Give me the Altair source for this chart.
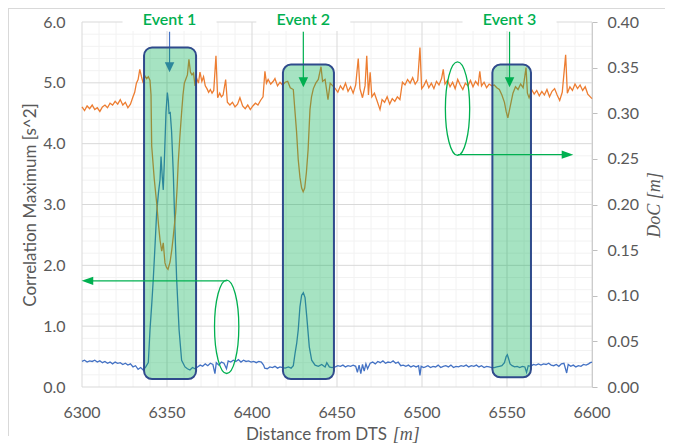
import altair as alt
import pandas as pd

# ---------------- data ----------------
# Depth of cover (right axis, metres)
doc_dist = [6300, 6301.5, 6303, 6304.5, 6306, 6307.5, 6309, 6310.5, 6312, 6313.5, 6315, 6316.5, 6318, 6319.5,
            6321, 6322.5, 6324, 6325.5, 6327, 6328.5, 6330, 6331, 6332, 6333, 6334, 6335, 6336, 6337, 6338,
            6339, 6340, 6340.6, 6341, 6342.5, 6343.9, 6345, 6345.9, 6346.9, 6347.8, 6348.8, 6349.7, 6350.6,
            6351.8, 6352.8, 6353.7, 6355.1, 6356, 6356.6, 6357.6, 6358.6, 6359.4, 6360.2, 6361, 6362, 6362.9,
            6363.8, 6364.7, 6365.6, 6366.5, 6367.5, 6368.5, 6369.4, 6370.5, 6371.5, 6372.5, 6373.5, 6374.5,
            6375.5, 6376.5, 6377.5, 6378.8, 6379.8, 6381, 6382, 6383, 6384.5, 6385.5, 6387, 6388.5, 6390,
            6391.5, 6392.9, 6394.5, 6396, 6397.5, 6399, 6400.5, 6402, 6403.5, 6405, 6406.5, 6407.6, 6408.5,
            6409.5, 6411, 6412.5, 6413.5, 6415, 6416.5, 6418, 6419.5, 6421, 6422.5, 6424.3, 6425.2, 6426.2,
            6427.2, 6428.2, 6429.2, 6430.1, 6431, 6432, 6433, 6434.1, 6435, 6436.1, 6437.5, 6439, 6440.6,
            6441.5, 6443, 6444.7, 6446, 6447.5, 6449, 6450.5, 6452, 6453.5, 6455, 6456.5, 6458, 6459.5, 6461,
            6462.5, 6463.5, 6465, 6466.5, 6467.5, 6468.5, 6469.5, 6470.5, 6472, 6473.5, 6475.3, 6476.5, 6478,
            6479.5, 6481, 6482.5, 6484, 6485.5, 6487, 6488.5, 6490, 6491.5, 6493, 6494.5, 6496, 6497.5,
            6498.8, 6499.8, 6501, 6502.5, 6504, 6505.5, 6507, 6508.5, 6510, 6511.5, 6512.5, 6513.5, 6515,
            6516.5, 6518, 6519.5, 6521, 6522.5, 6524, 6525.5, 6527, 6528.5, 6530, 6531.5, 6533, 6534, 6535,
            6536.5, 6538, 6539.5, 6541, 6542.5, 6544, 6545.5, 6547, 6548.5, 6549.5, 6550.5, 6551.5, 6552.5,
            6553.5, 6555, 6556.5, 6558, 6559.5, 6561.2, 6562, 6563, 6564.5, 6566, 6567.5, 6569, 6570.5, 6572,
            6573.5, 6575, 6576.5, 6578, 6579.5, 6581, 6582.5, 6584.5, 6585.5, 6587, 6588.5, 6590, 6591.5,
            6593, 6594.5, 6596, 6597.5, 6599, 6600]
doc_m = [0.307, 0.303, 0.308, 0.305, 0.309, 0.304, 0.306, 0.302, 0.307, 0.309, 0.306, 0.311, 0.309, 0.313,
         0.310, 0.315, 0.309, 0.312, 0.306, 0.310, 0.318, 0.323, 0.333, 0.337, 0.348, 0.340, 0.333, 0.341,
         0.338, 0.340, 0.336, 0.320, 0.264, 0.228, 0.202, 0.178, 0.161, 0.149, 0.158, 0.136, 0.131, 0.129,
         0.137, 0.150, 0.165, 0.191, 0.220, 0.246, 0.275, 0.301, 0.320, 0.333, 0.337, 0.342, 0.359, 0.345,
         0.342, 0.344, 0.330, 0.338, 0.333, 0.345, 0.335, 0.340, 0.330, 0.327, 0.323, 0.326, 0.322, 0.325,
         0.363, 0.317, 0.322, 0.318, 0.320, 0.337, 0.312, 0.309, 0.312, 0.307, 0.310, 0.317, 0.308, 0.305,
         0.309, 0.304, 0.308, 0.311, 0.309, 0.314, 0.318, 0.346, 0.333, 0.337, 0.332, 0.335, 0.338, 0.330,
         0.334, 0.331, 0.334, 0.335, 0.328, 0.326, 0.304, 0.280, 0.249, 0.230, 0.218, 0.214, 0.218, 0.235,
         0.260, 0.304, 0.318, 0.327, 0.333, 0.337, 0.351, 0.335, 0.337, 0.315, 0.333, 0.330, 0.327, 0.323,
         0.330, 0.326, 0.333, 0.324, 0.329, 0.322, 0.331, 0.360, 0.327, 0.317, 0.330, 0.363, 0.320, 0.345,
         0.318, 0.322, 0.314, 0.304, 0.315, 0.312, 0.318, 0.310, 0.316, 0.313, 0.318, 0.315, 0.334, 0.331,
         0.337, 0.333, 0.339, 0.332, 0.336, 0.372, 0.327, 0.330, 0.336, 0.328, 0.333, 0.327, 0.335, 0.331,
         0.338, 0.348, 0.332, 0.336, 0.329, 0.334, 0.327, 0.337, 0.331, 0.326, 0.333, 0.330, 0.336, 0.329,
         0.335, 0.331, 0.346, 0.330, 0.334, 0.328, 0.332, 0.330, 0.331, 0.328, 0.326, 0.320, 0.312, 0.302,
         0.295, 0.304, 0.313, 0.322, 0.329, 0.326, 0.332, 0.328, 0.350, 0.322, 0.317, 0.326, 0.321, 0.325,
         0.319, 0.324, 0.320, 0.326, 0.318, 0.324, 0.327, 0.320, 0.314, 0.323, 0.364, 0.322, 0.329, 0.325,
         0.332, 0.327, 0.331, 0.325, 0.329, 0.321, 0.318, 0.316]

# Correlation maximum (left axis, s^2)
corr_dist = [6300, 6301.5, 6303, 6304.5, 6306, 6307.5, 6309, 6310.5, 6312, 6313.5, 6315, 6316.5, 6318,
             6319.5, 6321, 6322.5, 6324, 6325.5, 6327, 6328.5, 6330, 6331.5, 6333, 6334.5, 6336, 6337.5,
             6339, 6340, 6341, 6341.9, 6343, 6343.9, 6345, 6345.9, 6346.5, 6347.2, 6347.8, 6348.4, 6349.4,
             6350.2, 6350.8, 6351.2, 6351.9, 6352.7, 6353.7, 6354.7, 6355.7, 6357.1, 6358.6, 6360.6, 6362,
             6363.5, 6365, 6366.5, 6368, 6369.5, 6371, 6372.5, 6374, 6375.5, 6377, 6378.2, 6379, 6380.5, 6382,
             6383.5, 6385, 6386, 6387.5, 6389, 6390.5, 6392, 6393.5, 6395, 6396.5, 6398, 6399.5, 6401, 6402.5,
             6404, 6405.5, 6406.8, 6407.5, 6409, 6410.5, 6412, 6413.5, 6415, 6416.5, 6418, 6419.5, 6421.4,
             6423, 6424.3, 6425.3, 6426.3, 6427.2, 6428.2, 6429.2, 6430.2, 6431.2, 6432.2, 6433.7, 6435.1,
             6437.1, 6439, 6441, 6443, 6444, 6445.5, 6447, 6449, 6450.5, 6452, 6453.5, 6455, 6456.5, 6458,
             6459.5, 6461, 6462, 6463, 6464, 6465, 6466, 6467, 6468, 6469.5, 6471, 6472.5, 6474, 6475.5, 6477,
             6478.5, 6480, 6481.5, 6483, 6484.5, 6486, 6487.5, 6489, 6490.5, 6492, 6493.5, 6495, 6496.5, 6498,
             6498.8, 6499.5, 6501, 6502, 6503.5, 6505, 6506.5, 6508, 6509.5, 6511, 6512.5, 6514, 6515.5, 6517,
             6518.5, 6520, 6521.5, 6523, 6524.5, 6526, 6527.5, 6529, 6530.5, 6532, 6533.5, 6535, 6536.5, 6538,
             6539.5, 6541, 6542.5, 6544, 6545.5, 6547, 6548.5, 6549.5, 6550.2, 6551, 6551.8, 6553, 6554.5,
             6556, 6557.5, 6559, 6560.5, 6561.5, 6562.5, 6564, 6565.5, 6567, 6568.5, 6570, 6571.5, 6573,
             6574.5, 6576, 6577.5, 6579, 6580.5, 6582, 6583.5, 6585.1, 6586, 6587.5, 6589, 6590.5, 6592,
             6593.5, 6595, 6596.5, 6598, 6599, 6600]
corr_val = [0.42, 0.44, 0.41, 0.43, 0.42, 0.44, 0.41, 0.43, 0.40, 0.42, 0.39, 0.41, 0.38, 0.41, 0.39, 0.40,
            0.37, 0.39, 0.36, 0.38, 0.33, 0.35, 0.29, 0.32, 0.28, 0.33, 0.40, 0.94, 1.35, 1.76, 2.35, 2.86,
            3.20, 3.41, 3.79, 3.46, 3.24, 3.68, 4.51, 4.84, 4.70, 4.50, 4.51, 4.20, 3.52, 2.58, 1.76, 0.94,
            0.44, 0.33, 0.30, 0.28, 0.32, 0.30, 0.33, 0.36, 0.34, 0.38, 0.35, 0.39, 0.37, 0.22, 0.40, 0.36,
            0.41, 0.39, 0.30, 0.43, 0.41, 0.44, 0.42, 0.45, 0.41, 0.44, 0.42, 0.43, 0.41, 0.42, 0.40, 0.42,
            0.41, 0.36, 0.31, 0.30, 0.33, 0.32, 0.34, 0.31, 0.33, 0.32, 0.31, 0.33, 0.31, 0.35, 0.55, 0.72,
            0.94, 1.32, 1.51, 1.55, 1.47, 1.16, 0.66, 0.44, 0.36, 0.34, 0.37, 0.33, 0.40, 0.33, 0.32, 0.33,
            0.35, 0.34, 0.36, 0.33, 0.35, 0.34, 0.36, 0.34, 0.24, 0.36, 0.22, 0.37, 0.26, 0.38, 0.30, 0.39,
            0.41, 0.38, 0.42, 0.40, 0.43, 0.39, 0.41, 0.40, 0.43, 0.39, 0.41, 0.35, 0.36, 0.34, 0.36, 0.33,
            0.35, 0.33, 0.35, 0.19, 0.34, 0.32, 0.33, 0.35, 0.32, 0.34, 0.33, 0.36, 0.32, 0.34, 0.35, 0.33,
            0.36, 0.32, 0.34, 0.33, 0.35, 0.34, 0.36, 0.33, 0.35, 0.34, 0.36, 0.33, 0.35, 0.32, 0.34, 0.33,
            0.32, 0.32, 0.33, 0.34, 0.35, 0.40, 0.50, 0.53, 0.46, 0.38, 0.35, 0.33, 0.34, 0.32, 0.34, 0.33,
            0.24, 0.35, 0.34, 0.37, 0.36, 0.38, 0.36, 0.38, 0.37, 0.39, 0.36, 0.35, 0.37, 0.34, 0.38, 0.39,
            0.23, 0.37, 0.34, 0.36, 0.33, 0.35, 0.34, 0.37, 0.36, 0.38, 0.40, 0.41]

# axes / grid
x_ticks = [6300, 6350, 6400, 6450, 6500, 6550, 6600]
x_tick_labels = ["6300", "6350", "6400", "6450", "6500", "6550", "6600"]
x_minor = [6310, 6320, 6330, 6340, 6360, 6370, 6380, 6390, 6410, 6420, 6430, 6440, 6460, 6470, 6480,
           6490, 6510, 6520, 6530, 6540, 6560, 6570, 6580, 6590]
y_left_ticks = [0, 1, 2, 3, 4, 5, 6]
y_minor = [0.2, 0.4, 0.6, 0.8, 1.2, 1.4, 1.6, 1.8, 2.2, 2.4, 2.6, 2.8, 3.2, 3.4, 3.6, 3.8, 4.2, 4.4,
           4.6, 4.8, 5.2, 5.4, 5.6, 5.8]
y_right_ticks = [0.0, 0.05, 0.10, 0.15, 0.20, 0.25, 0.30, 0.35, 0.40]

# annotations (in data units of the x axis and the left axis)
event_names = ["Event 1", "Event 2", "Event 3"]
event_x = [6351.5, 6430.2, 6551.5]
event_box_x0 = [6336.5, 6418.2, 6541.4]
event_box_x1 = [6367.1, 6448.2, 6564.1]
event_box_top = [5.58, 5.30, 5.30]
event_box_bottom = [0.13, 0.13, 0.16]
event_label_y = [6.03, 6.03, 6.03]
event_arrow_top = [5.84, 5.84, 5.84]
event_arrow_head = [5.256, 5.009, 5.009]

ellipse_x = [6385.1, 6520.9]
ellipse_y = [0.99, 4.575]
legend_arrow_x0 = [6385.1, 6521.0]
legend_arrow_x1 = [6303.2, 6585.6]
legend_arrow_y = [1.745, 3.819]

x_tick_label_y = -0.42
x_title = ["Distance from DTS"]
x_title_x = [6437.9]
x_unit_label = ["[m]"]
x_unit_x = [6490.8]
x_title_y = [-0.87]

# ---------------- styling ----------------
FONT = "Lato"
TXT = "#595959"
GREEN = "#00B050"
BLUE = "#4472C4"
ORANGE = "#ED7D31"
NAVY = "#2F4B8C"
MINOR = "#F2F2F2"
MAJOR = "#D9D9D9"

k = 0.5523
a = 0.26
ELLIPSE = (f"M0,-1 C{k*a:.4f},-1 {a},{-k} {a},0 C{a},{k} {k*a:.4f},1 0,1 "
           f"C{-k*a:.4f},1 {-a},{k} {-a},0 C{-a},{-k} {-k*a:.4f},-1 0,-1 Z")
HEAD_DOWN = "M0,1 L-0.95,-1 L0.95,-1 Z"
HEAD_RIGHT = "M1,0 L-1,-0.72 L-1,0.72 Z"
HEAD_LEFT = "M-1,0 L1,-0.72 L1,0.72 Z"
LABEL_BG = "M-1,-0.23 L1,-0.23 L1,0.23 L-1,0.23 Z"

xs = alt.Scale(domain=[6300, 6600], nice=False, zero=False)
yl = alt.Scale(domain=[0, 6], nice=False, zero=False)
yr = alt.Scale(domain=[0, 0.4], nice=False, zero=False)


def X(f):
    return alt.X(f, type="quantitative", scale=xs, axis=None)


def YL(f):
    return alt.Y(f, type="quantitative", scale=yl, axis=None)


doc_df = pd.DataFrame({"d": doc_dist, "doc": doc_m})
corr_df = pd.DataFrame({"d": corr_dist, "c": corr_val})
ev_df = pd.DataFrame({
    "name": event_names, "x": event_x, "x0": event_box_x0, "x1": event_box_x1,
    "top": event_box_top, "bottom": event_box_bottom, "ly": event_label_y,
    "at": event_arrow_top, "ah": event_arrow_head,
})
ell_df = pd.DataFrame({"x": ellipse_x, "y": ellipse_y})
leg_df = pd.DataFrame({"x0": legend_arrow_x0, "x1": legend_arrow_x1, "y": legend_arrow_y})
xtick_df = pd.DataFrame({"x": x_ticks, "t": x_tick_labels, "y": [x_tick_label_y] * len(x_ticks)})
xt_df = pd.DataFrame({"t": x_title, "x": x_title_x, "y": x_title_y})
unit_df = pd.DataFrame({"t": x_unit_label, "x": x_unit_x, "y": x_title_y})
one = pd.DataFrame({"a": [0]})

grid_xm = alt.Chart(pd.DataFrame({"x": x_minor})).mark_rule(color=MINOR, strokeWidth=1).encode(x=X("x"))
grid_ym = alt.Chart(pd.DataFrame({"y": y_minor})).mark_rule(color=MINOR, strokeWidth=1).encode(y=YL("y"))
grid_xM = alt.Chart(pd.DataFrame({"x": x_ticks})).mark_rule(color=MAJOR, strokeWidth=1).encode(x=X("x"))
grid_yM = alt.Chart(pd.DataFrame({"y": y_left_ticks})).mark_rule(color=MAJOR, strokeWidth=1).encode(y=YL("y"))

x_labels = alt.Chart(xtick_df).mark_text(font=FONT, fontSize=16, color=TXT, baseline="middle",
                                         align="center").encode(x=X("x"), y=YL("y"), text="t:N")

label_bg = alt.Chart(ev_df).mark_point(shape=LABEL_BG, size=8836, filled=True, color="white",
                                       opacity=1).encode(x=X("x"), y=YL("ly"))

corr_line = alt.Chart(corr_df).mark_line(color=BLUE, strokeWidth=1.3).encode(
    x=X("d"),
    y=alt.Y("c:Q", scale=yl, axis=alt.Axis(
        values=y_left_ticks, format=".1f", title="Correlation Maximum [s^2]", grid=False,
        domain=False, ticks=False, tickSize=0, labelPadding=17, labelOverlap=False,
        titleX=-47, titleY=182.5, titleAngle=270, titleBaseline="alphabetic", titleAlign="center")),
)

doc_line = alt.Chart(doc_df).mark_line(color=ORANGE, strokeWidth=1.3).encode(
    x=X("d"),
    y=alt.Y("doc:Q", scale=yr, axis=alt.Axis(
        orient="right", values=y_right_ticks, format=".2f", title="DoC [m]", grid=False,
        domain=True, domainColor="#BFBFBF", ticks=True, tickColor="#BFBFBF", tickSize=5,
        labelPadding=10, labelOverlap=False, titleFont="Liberation Serif", titleFontStyle="italic",
        titleFontSize=18, titleX=67, titleY=182.5, titleAngle=270, titleBaseline="alphabetic",
        titleAlign="center")),
)

ev1 = ev_df[ev_df["name"] == "Event 1"]
ev23 = ev_df[ev_df["name"] != "Event 1"]
arrow1 = alt.Chart(ev1).mark_rule(color=BLUE, strokeWidth=1.2).encode(x=X("x"), y=YL("at"), y2="ah")
arrow23 = alt.Chart(ev23).mark_rule(color=GREEN, strokeWidth=1.2).encode(x=X("x"), y=YL("at"), y2="ah")
head1 = alt.Chart(ev1).mark_point(shape=HEAD_DOWN, size=100, filled=True, color=BLUE, opacity=1).encode(
    x=X("x"), y=YL("ah"))
head23 = alt.Chart(ev23).mark_point(shape=HEAD_DOWN, size=100, filled=True, color=GREEN, opacity=1).encode(
    x=X("x"), y=YL("ah"))

boxes = alt.Chart(ev_df).mark_rect(cornerRadius=8, fill=GREEN, fillOpacity=0.35, stroke=NAVY,
                                   strokeWidth=2).encode(x=X("x0"), x2="x1", y=YL("top"), y2="bottom")

labels = alt.Chart(ev_df).mark_text(font=FONT, fontSize=16, fontWeight=600, color=GREEN,
                                    baseline="middle").encode(x=X("x"), y=YL("ly"), text="name:N")

ellipses = alt.Chart(ell_df).mark_point(shape=ELLIPSE, size=8742, filled=False, color=GREEN,
                                        strokeWidth=1.3, opacity=1).encode(x=X("x"), y=YL("y"))
leg_lines = alt.Chart(leg_df).mark_rule(color=GREEN, strokeWidth=1.2).encode(x=X("x0"), x2="x1", y=YL("y"))
leg_head_l = alt.Chart(leg_df.iloc[[0]]).mark_point(shape=HEAD_LEFT, size=135, filled=True, color=GREEN,
                                                   opacity=1).encode(x=X("x1"), y=YL("y"))
leg_head_r = alt.Chart(leg_df.iloc[[1]]).mark_point(shape=HEAD_RIGHT, size=135, filled=True, color=GREEN,
                                                   opacity=1).encode(x=X("x1"), y=YL("y"))

xt_text = alt.Chart(xt_df).mark_text(font=FONT, fontSize=17, color=TXT, baseline="alphabetic",
                                     align="center").encode(x=X("x"), y=YL("y"), text="t:N")
unit_text = alt.Chart(unit_df).mark_text(font="Liberation Serif", fontStyle="italic", fontSize=18,
                                         color=TXT, baseline="alphabetic", align="center").encode(
    x=X("x"), y=YL("y"), text="t:N")

border_l = alt.Chart(one).mark_rule(color="#D9D9D9", strokeWidth=1).encode(
    x=alt.value(-73.5), y=alt.value(-14), y2=alt.value(414))
border_t = alt.Chart(one).mark_rule(color="#D9D9D9", strokeWidth=1).encode(
    x=alt.value(-74), x2=alt.value(583), y=alt.value(-13.5))

chart = alt.layer(
    grid_xm, grid_ym, grid_xM, grid_yM, x_labels, label_bg,
    corr_line, doc_line,
    arrow1, arrow23, head1, head23,
    boxes, labels,
    ellipses, leg_lines, leg_head_l, leg_head_r,
    xt_text, unit_text, border_l, border_t,
).resolve_scale(y="independent").properties(
    width=510, height=365,
    autosize=alt.AutoSizeParams(type="none"),
    padding={"left": 74, "top": 14, "right": 73, "bottom": 57},
    background="white",
).configure_view(stroke=None).configure_axis(
    labelFont=FONT, titleFont=FONT, labelColor=TXT, titleColor=TXT,
    labelFontSize=16, titleFontSize=17, titleFontWeight="normal",
)

chart.save("out.html", embed_options={"renderer": "svg", "actions": False})
